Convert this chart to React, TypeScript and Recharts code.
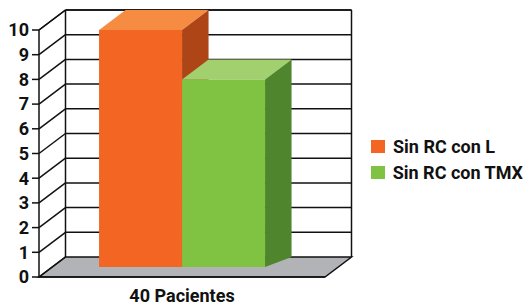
import React from 'react';
import { Bar, BarChart, CartesianGrid, Legend, XAxis, YAxis } from 'recharts';

const categories = ['40 Pacientes'];
const sinRcConL = [10];
const sinRcConTmx = [8];
const yTicks = [0, 1, 2, 3, 4, 5, 6, 7, 8, 9, 10];

const data = categories.map((name, i) => ({
  name,
  l: sinRcConL[i],
  tmx: sinRcConTmx[i]
}));

// 3d offset of the back wall
const DX = 26.5;
const DY = -20;
const FONT = 'Roboto, "Liberation Sans", Arial, sans-serif';

function GridLine(props: any) {
  const { x, y, width, height, x1, y1, x2, index } = props;
  const isFloor = Math.abs(y1 - (y + height)) < 0.5;
  return (
    <g>
      {index === 0 && (
        <g>
          <polygon
            points={`${x},${y + height} ${x + width},${y + height} ${x + width + DX},${y + height + DY} ${x + DX},${y + height + DY}`}
            fill="#b1b3b6"
            stroke="#111"
            strokeWidth={1.5}
          />
          <line x1={x + DX} y1={y + DY} x2={x + DX} y2={y + height + DY} stroke="#111" strokeWidth={1.5} />
          <line x1={x + width + DX} y1={y + DY} x2={x + width + DX} y2={y + height + DY} stroke="#111" strokeWidth={1.5} />
          <line x1={x} y1={y} x2={x + DX} y2={y + DY} stroke="#111" strokeWidth={1.5} />
          <line x1={x + DX} y1={y + DY} x2={x + width + DX} y2={y + DY} stroke="#111" strokeWidth={1.5} />
        </g>
      )}
      <line x1={x1} y1={y1} x2={x1 + DX} y2={y1 + DY} stroke="#111" strokeWidth={1.5} />
      {!isFloor && <line x1={x1 + DX} y1={y1 + DY} x2={x2 + DX} y2={y1 + DY} stroke="#111" strokeWidth={1.5} />}
    </g>
  );
}

function Box3D(props: any) {
  const { x, y, width, height, front, top, side } = props;
  if (!height || height <= 0) return null;
  const bottom = y + height;
  return (
    <g>
      <rect x={x} y={y} width={width} height={height + DY / 2} fill={front} />
      <polygon
        points={`${x},${y} ${x + width},${y} ${x + width + DX},${y + DY} ${x + DX},${y + DY}`}
        fill={top}
      />
      <polygon
        points={`${x + width},${y} ${x + width + DX},${y + DY} ${x + width + DX},${bottom + DY} ${x + width},${bottom + DY / 2}`}
        fill={side}
      />
    </g>
  );
}

function LegendContent(props: any) {
  const { payload = [] } = props;
  return (
    <div style={{ fontFamily: FONT, fontSize: 18, fontWeight: 700, color: '#111', whiteSpace: 'nowrap' }}>
      {payload.map((p: any) => (
        <div key={p.value} style={{ display: 'flex', alignItems: 'center', height: 26 }}>
          <span style={{ width: 14, height: 13, background: p.color, marginRight: 8, display: 'inline-block' }} />
          <span>{p.value}</span>
        </div>
      ))}
    </div>
  );
}

export default function App() {
  return (
    <div style={{ position: 'absolute', left: 0, top: 0, width: 523, height: 306, background: '#fff' }}>
      <BarChart
        width={523}
        height={306}
        data={data}
        margin={{ top: 30, right: 46, left: 0, bottom: 0 }}
        barCategoryGap="21%"
        barGap={0}
      >
        <CartesianGrid horizontal={(p: any) => <GridLine {...p} />} vertical={false} />
        <XAxis
          dataKey="name"
          height={29}
          axisLine={{ stroke: '#111', strokeWidth: 1.5 }}
          tickLine={false}
          tickSize={0}
          tickMargin={12}
          tick={{ fill: '#111', fontSize: 18, fontWeight: 700, fontFamily: FONT }}
        />
        <YAxis
          width={39}
          domain={[0, 10]}
          ticks={yTicks}
          interval={0}
          axisLine={{ stroke: '#111', strokeWidth: 1.5 }}
          tickLine={{ stroke: '#111', strokeWidth: 1.5 }}
          tickSize={7}
          tickMargin={3}
          tick={{ fill: '#111', fontSize: 18, fontWeight: 700, fontFamily: FONT }}
        />
        <Legend
          layout="vertical"
          align="right"
          verticalAlign="middle"
          content={<LegendContent />}
          wrapperStyle={{ left: 371, top: 133, width: 152 }}
        />
        <Bar
          dataKey="l"
          name="Sin RC con L"
          fill="#f26522"
          isAnimationActive={false}
          shape={(p: any) => <Box3D {...p} front="#f26522" top="#f68c42" side="#ae4516" />}
        />
        <Bar
          dataKey="tmx"
          name="Sin RC con TMX"
          fill="#80c241"
          isAnimationActive={false}
          shape={(p: any) => <Box3D {...p} front="#80c241" top="#a2d06f" side="#4f852c" />}
        />
      </BarChart>
    </div>
  );
}
